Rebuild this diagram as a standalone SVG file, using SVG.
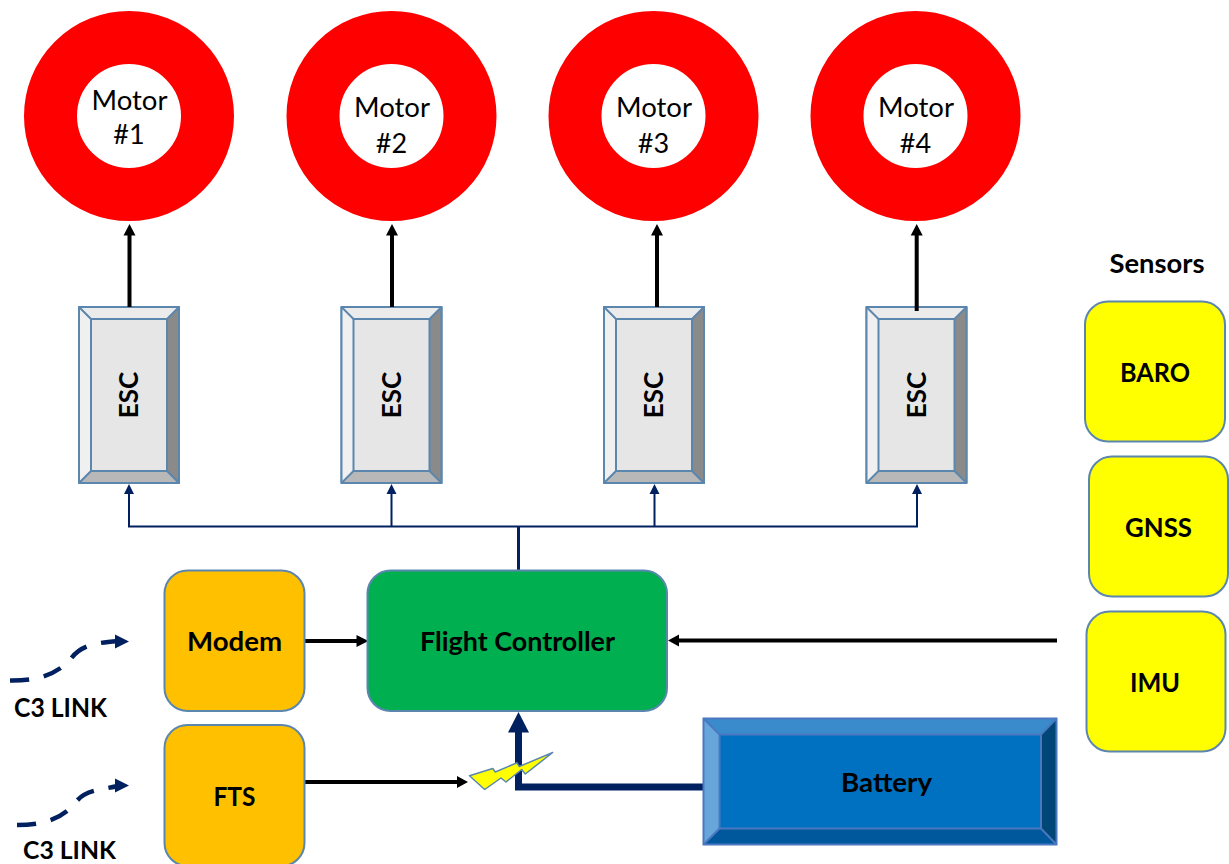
<svg xmlns="http://www.w3.org/2000/svg" xmlns:xlink="http://www.w3.org/1999/xlink" width="1229" height="864" viewBox="0 0 1229 864">
<style>
text{font-family:"Lato","Open Sans","Liberation Sans",sans-serif;fill:#000;text-anchor:middle}
.b{font-weight:700;font-size:26px}
.m{font-size:27px}
.edge{stroke:#5b86ad;stroke-width:2;stroke-linejoin:round}
.ring{fill:#fff;stroke:#ff0000;stroke-width:53}
.k{stroke:#000;stroke-width:4;fill:none}
.n{stroke:#002060;stroke-width:2;fill:none}
.d{stroke:#002060;stroke-width:4.5;fill:none;stroke-dasharray:19 15}
</style>
<defs>
<g id="esc">
<rect class="edge" x="0" y="0" width="100" height="176" fill="#e6e6e6"/>
<polygon points="0,0 100,0 88,12 12,12" fill="#ebebeb"/>
<polygon points="0,0 12,12 12,164 0,176" fill="#f0f0f0"/>
<polygon points="100,0 100,176 88,164 88,12" fill="#8a8a8a"/>
<polygon points="0,176 12,164 88,164 100,176" fill="#b8b8b8"/>
<g class="edge" fill="none"><rect x="0" y="0" width="100" height="176"/><rect x="12" y="12" width="76" height="152"/><path d="M0 0L12 12M100 0L88 12M0 176L12 164M100 176L88 164"/></g>
</g>
</defs>
<g id="esc1"><use xlink:href="#esc" href="#esc" x="79" y="307"/><text class="b" transform="translate(138,395) rotate(-90)">ESC</text></g>
<g id="esc2"><use xlink:href="#esc" href="#esc" x="341.500" y="307"/><text class="b" transform="translate(401,395) rotate(-90)">ESC</text></g>
<g id="esc3"><use xlink:href="#esc" href="#esc" x="604" y="307"/><text class="b" transform="translate(663,395) rotate(-90)">ESC</text></g>
<g id="esc4"><use xlink:href="#esc" href="#esc" x="866.500" y="307"/><text class="b" transform="translate(926,395) rotate(-90)">ESC</text></g>
<g id="connectors">
<path class="k" d="M129.500 307V233M392 307V233M657 307V233M916.700 311V233"/>
<path d="M129.500 224l-6 11.500h12zM392 224l-6 11.500h12zM657 224l-6 11.500h12zM916.700 224l-6 11.500h12z" fill="#000"/>
<path class="n" d="M129 494V526.500H917V494M391.500 494V526.500M654.500 494V526.500"/>
<path d="M129 484l-5 10h10zM391.500 484l-5 10h10zM654.500 484l-5 10h10zM917 484l-5 10h10z" fill="#002060"/>
<path d="M518.500 526V571" stroke="#002060" stroke-width="3" fill="none"/>
<path class="k" d="M305 641H358M1057 640.500H678M305 782H459"/>
<path d="M368.500 641l-12-6v12zM668 640.500l11-6v12zM468 782l-11-6v12z" fill="#000"/>
<path d="M703 787H518.500V730" stroke="#002060" stroke-width="7" fill="none"/>
<path d="M518.500 712l10.500 20.500h-21z" fill="#002060"/>
<path class="d" d="M10 680.500C45 681 60 670 70 660C80 645 95 643 118 641"/>
<path d="M129 641.500l-14-7v14z" fill="#002060"/>
<path class="d" d="M17 825C50 825 65 815 76 802C85 790 100 790 118 786"/>
<path d="M129 785.500l-14-7v14z" fill="#002060"/>
</g>
<g id="motor1"><circle class="ring" cx="129" cy="116" r="78.500"/><text class="m" x="129.500" y="110" textLength="76" lengthAdjust="spacingAndGlyphs">Motor</text><text class="m" x="129" y="144">#1</text></g>
<g id="motor2"><circle class="ring" cx="391.500" cy="116" r="78.500"/><text class="m" x="392" y="116.500" textLength="76" lengthAdjust="spacingAndGlyphs">Motor</text><text class="m" x="391.500" y="152.500">#2</text></g>
<g id="motor3"><circle class="ring" cx="653.500" cy="116" r="78.500"/><text class="m" x="654" y="116.500" textLength="76" lengthAdjust="spacingAndGlyphs">Motor</text><text class="m" x="653.500" y="152.500">#3</text></g>
<g id="motor4"><circle class="ring" cx="915.500" cy="116" r="78.500"/><text class="m" x="916" y="116.500" textLength="76" lengthAdjust="spacingAndGlyphs">Motor</text><text class="m" x="915.500" y="152.500">#4</text></g>
<text class="b" x="1157" y="273" textLength="95" lengthAdjust="spacingAndGlyphs">Sensors</text>
<g id="baro"><rect class="edge" x="1085" y="301.500" width="140" height="140" rx="23" fill="#ffff00"/><text class="b" x="1155" y="382" textLength="70" lengthAdjust="spacingAndGlyphs">BARO</text></g>
<g id="gnss"><rect class="edge" x="1089" y="456.500" width="139" height="140" rx="23" fill="#ffff00"/><text class="b" x="1158.500" y="537" textLength="67" lengthAdjust="spacingAndGlyphs">GNSS</text></g>
<g id="imu"><rect class="edge" x="1086.500" y="611.500" width="139" height="140" rx="23" fill="#ffff00"/><text class="b" x="1155" y="692" textLength="50" lengthAdjust="spacingAndGlyphs">IMU</text></g>
<g id="modem"><rect class="edge" x="164.500" y="570.500" width="140" height="140.500" rx="23" fill="#ffc000"/><text class="b" x="234.500" y="651" textLength="95" lengthAdjust="spacingAndGlyphs">Modem</text></g>
<g id="fts"><rect class="edge" x="164.500" y="725" width="140" height="141" rx="23" fill="#ffc000"/><text class="b" x="234.500" y="806" textLength="42" lengthAdjust="spacingAndGlyphs">FTS</text></g>
<g id="flight-controller"><rect class="edge" x="367.500" y="570.500" width="299.500" height="140.500" rx="23" fill="#00b050"/><text class="b" x="517.500" y="651" textLength="195" lengthAdjust="spacingAndGlyphs">Flight Controller</text></g>
<g id="battery">
<rect x="703.500" y="718.500" width="353" height="126" fill="#0070c0"/>
<polygon points="703.500,718.500 1056.500,718.500 1041,734.500 719.500,734.500" fill="#3a8bcb"/>
<polygon points="703.500,718.500 719.500,734.500 719.500,828.500 703.500,844.500" fill="#66a6da"/>
<polygon points="1056.500,718.500 1056.500,844.500 1041,828.500 1041,734.500" fill="#004677"/>
<polygon points="703.500,844.500 719.500,828.500 1041,828.500 1056.500,844.500" fill="#00589c"/>
<g fill="none" stroke="#4a78c0" stroke-width="2"><rect x="703.500" y="718.500" width="353" height="126"/><rect x="719.500" y="734.500" width="321.500" height="94"/><path d="M703.500 718.500L719.500 734.500M1056.500 718.500L1041 734.500M703.500 844.500L719.500 828.500M1056.500 844.500L1041 828.500"/></g>
<text class="b" x="886.500" y="792" textLength="91" lengthAdjust="spacingAndGlyphs">Battery</text></g>
<g id="lightning"><polygon points="469.500,775.700 492.700,768.500 495.300,772 517,762.800 519.300,766.500 552.700,752.500 525.300,774 521.700,769.500 506,782 501,778 484.700,789.500" fill="#ffff00" stroke="#5b86ad" stroke-width="1.500" stroke-linejoin="round"/></g>
<text class="b" x="60.500" y="717" textLength="93" lengthAdjust="spacingAndGlyphs">C3 LINK</text>
<text class="b" x="69.500" y="858.500" style="font-size:25px" textLength="93" lengthAdjust="spacingAndGlyphs">C3 LINK</text>
</svg>
